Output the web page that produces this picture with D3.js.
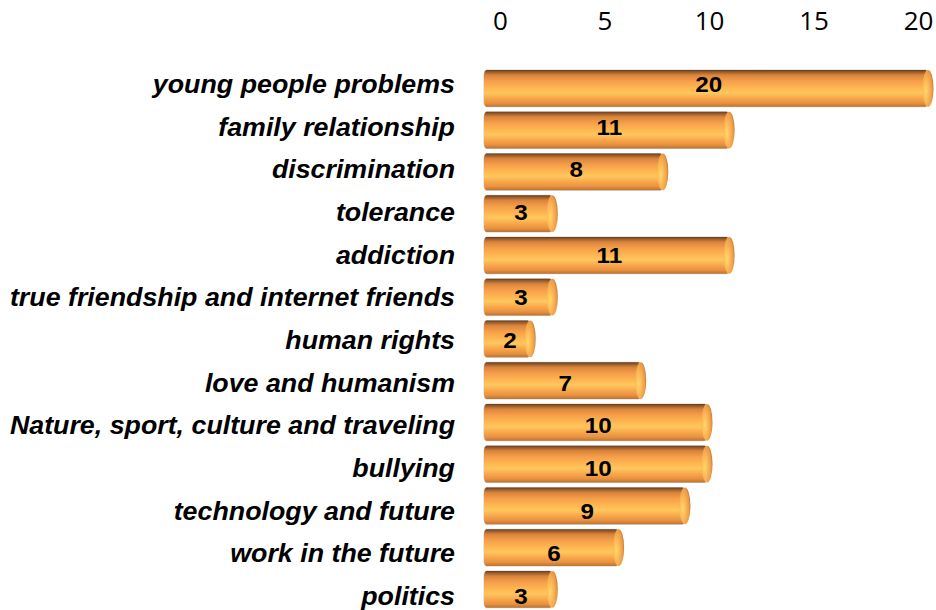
<!DOCTYPE html>
<html>
<head>
<meta charset="utf-8">
<script src="https://cdn.jsdelivr.net/npm/d3@7"></script>
<style>
  html, body { margin: 0; padding: 0; background: #fff; }
  svg { display: block; }
</style>
</head>
<body>
<svg id="chart" width="936" height="610"></svg>
<script>
// Topics and how often each was chosen
const topics = [
  "young people problems",
  "family relationship",
  "discrimination",
  "tolerance",
  "addiction",
  "true friendship and internet friends",
  "human rights",
  "love and humanism",
  "Nature, sport, culture and traveling",
  "bullying",
  "technology and future",
  "work in the future",
  "politics"
];
const counts = [20, 11, 8, 3, 11, 3, 2, 7, 10, 10, 9, 6, 3];
const tickValues = [0, 5, 10, 15, 20];

const svg = d3.select("#chart");
const defs = svg.append("defs");

// Cylinder body shading (top to bottom)
const body = defs.append("linearGradient")
  .attr("id", "cylBody").attr("x1", 0).attr("y1", 0).attr("x2", 0).attr("y2", 1);
[
  [0, "#5e3a1c"], [0.05, "#94582a"], [0.14, "#d8843a"], [0.3, "#f59e4a"],
  [0.5, "#ffb852"], [0.62, "#ffc75e"], [0.76, "#f9a84c"], [0.9, "#e8903f"],
  [1, "#b8722f"]
].forEach(([o, c]) => body.append("stop").attr("offset", o).attr("stop-color", c));

// End cap face
const cap = defs.append("radialGradient")
  .attr("id", "cylCap").attr("cx", 0.3).attr("cy", 0.58).attr("r", 0.72);
[
  [0, "#ffd86c"], [0.45, "#fbb455"], [0.82, "#eb9a44"], [1, "#b87434"]
].forEach(([o, c]) => cap.append("stop").attr("offset", o).attr("stop-color", c));

// Bar geometry scales
const x = d3.scaleLinear().domain([0, 20]).range([486, 928]);
const y = d3.scaleBand().domain(topics).range([67.5, 610.25])
  .paddingInner(0.114).paddingOuter(0.057);

// Label scales (axis text sits on its own grid)
const xAxisScale = d3.scaleLinear().domain([0, 20]).range([500, 918]);
const yLabel = d3.scaleBand().domain(topics).range([62.7, 617.3]);

const capRx = 5.5;
const data = topics.map((t, i) => ({ topic: t, value: counts[i] }));

// Top axis labels
const axis = d3.axisTop(xAxisScale).tickValues(tickValues).tickSize(0).tickPadding(0);
const axisG = svg.append("g").attr("transform", "translate(0,30)").call(axis);
axisG.select(".domain").remove();
axisG.selectAll("text")
  .attr("font-family", "'Open Sans', sans-serif")
  .attr("font-size", 26)
  .attr("fill", "#000")
  .attr("dy", 0);

// Category labels (slightly widened face)
const catAxis = d3.axisLeft(yLabel).tickSize(0).tickPadding(0);
const catG = svg.append("g").attr("transform", "translate(455,0) scale(1.072,1)").call(catAxis);
catG.select(".domain").remove();
catG.selectAll("text")
  .attr("font-family", "'Liberation Sans', Arial, sans-serif")
  .attr("font-size", 25)
  .attr("font-weight", "bold")
  .attr("font-style", "italic")
  .attr("fill", "#000")
  .attr("dy", "0.36em");

// Cylinders
const bars = svg.append("g").selectAll("g.bar").data(data).join("g").attr("class", "bar");

// soft grey outline behind body
bars.append("rect")
  .attr("x", x(0) - 2.5)
  .attr("y", d => y(d.topic) - 0.5)
  .attr("width", d => x(d.value) - x(0) + 3)
  .attr("height", y.bandwidth() + 1)
  .attr("rx", 3).attr("ry", 6)
  .attr("fill", "#cfcfcf");

bars.append("rect")
  .attr("x", x(0) - 2)
  .attr("y", d => y(d.topic))
  .attr("width", d => x(d.value) - x(0) + 2)
  .attr("height", y.bandwidth())
  .attr("rx", 2.5).attr("ry", 6)
  .attr("fill", "url(#cylBody)");

bars.append("ellipse")
  .attr("cx", d => x(d.value))
  .attr("cy", d => y(d.topic) + y.bandwidth() / 2)
  .attr("rx", capRx)
  .attr("ry", y.bandwidth() / 2)
  .attr("fill", "url(#cylCap)");

// Value labels
svg.append("g").selectAll("text").data(data).join("text")
  .attr("transform", d => {
    const cx = (x(0) - 2 + x(d.value) + capRx) / 2;
    const cy = yLabel(d.topic) + yLabel.bandwidth() / 2;
    return `translate(${cx},${cy}) scale(1.1,1)`;
  })
  .attr("dy", "0.36em")
  .attr("text-anchor", "middle")
  .attr("font-family", "'Liberation Sans', Arial, sans-serif")
  .attr("font-size", 22)
  .attr("font-weight", "bold")
  .attr("fill", "#000")
  .text(d => d.value);
</script>
</body>
</html>
